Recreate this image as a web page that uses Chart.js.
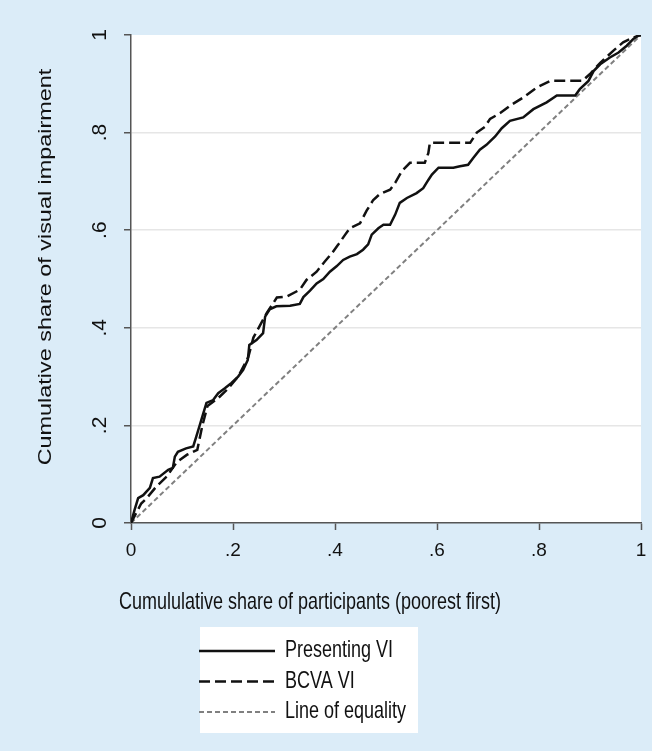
<!DOCTYPE html>
<html>
<head>
<meta charset="utf-8">
<title>Concentration curves of visual impairment</title>
<script src="https://cdn.jsdelivr.net/npm/chart.js@4.4.1/dist/chart.umd.min.js"></script>
<style>
  html, body { margin: 0; padding: 0; background: #dbecf8; }
  canvas { display: block; }
</style>
</head>
<body>
<canvas id="curveChart" width="652" height="751"></canvas>
<script>
// values (x = share of participants, y = share of VI)
const presentingX = [0, 0.007, 0.014, 0.024, 0.037, 0.043, 0.056, 0.073, 0.082, 0.086, 0.092, 0.108, 0.122, 0.128, 0.135, 0.141, 0.148, 0.161, 0.171, 0.184, 0.197, 0.21, 0.22, 0.229, 0.232, 0.246, 0.259, 0.263, 0.272, 0.285, 0.312, 0.331, 0.338, 0.351, 0.364, 0.377, 0.39, 0.403, 0.416, 0.429, 0.443, 0.455, 0.465, 0.472, 0.485, 0.495, 0.508, 0.518, 0.527, 0.541, 0.56, 0.573, 0.583, 0.59, 0.603, 0.632, 0.645, 0.661, 0.671, 0.684, 0.697, 0.714, 0.727, 0.743, 0.769, 0.789, 0.815, 0.835, 0.871, 0.88, 0.897, 0.907, 0.92, 0.939, 0.956, 0.972, 0.985, 0.995, 1];
const presentingY = [0, 0.027, 0.051, 0.057, 0.072, 0.092, 0.095, 0.109, 0.113, 0.136, 0.146, 0.153, 0.157, 0.177, 0.201, 0.222, 0.246, 0.252, 0.266, 0.276, 0.287, 0.3, 0.314, 0.334, 0.365, 0.375, 0.389, 0.423, 0.438, 0.444, 0.445, 0.449, 0.463, 0.476, 0.491, 0.5, 0.515, 0.526, 0.539, 0.546, 0.551, 0.56, 0.571, 0.591, 0.604, 0.611, 0.611, 0.632, 0.656, 0.666, 0.676, 0.686, 0.703, 0.714, 0.728, 0.728, 0.731, 0.734, 0.748, 0.765, 0.775, 0.792, 0.809, 0.824, 0.831, 0.848, 0.862, 0.876, 0.876, 0.889, 0.906, 0.926, 0.94, 0.954, 0.964, 0.978, 0.992, 0.999, 1];

const bcvaX = [0, 0.01, 0.02, 0.03, 0.05, 0.07, 0.09, 0.11, 0.13, 0.14, 0.15, 0.17, 0.19, 0.21, 0.23, 0.24, 0.266, 0.286, 0.305, 0.331, 0.344, 0.364, 0.38, 0.394, 0.406, 0.42, 0.429, 0.449, 0.462, 0.475, 0.488, 0.508, 0.518, 0.531, 0.547, 0.576, 0.583, 0.586, 0.665, 0.678, 0.694, 0.704, 0.724, 0.743, 0.769, 0.795, 0.822, 0.885, 0.9, 0.92, 0.946, 0.965, 0.985, 1];
const bcvaY = [0, 0.02, 0.04, 0.05, 0.075, 0.095, 0.125, 0.14, 0.15, 0.2, 0.24, 0.255, 0.275, 0.3, 0.34, 0.38, 0.43, 0.462, 0.464, 0.478, 0.498, 0.515, 0.536, 0.553, 0.57, 0.591, 0.604, 0.614, 0.64, 0.662, 0.674, 0.683, 0.697, 0.721, 0.738, 0.738, 0.758, 0.779, 0.779, 0.8, 0.812, 0.828, 0.84, 0.855, 0.872, 0.892, 0.906, 0.906, 0.92, 0.943, 0.968, 0.985, 0.995, 1];

const equalityX = [0, 1];
const equalityY = [0, 1];

const seriesNames = ["Presenting VI", "BCVA VI", "Line of equality"];
const xTickLabels = ["0", ".2", ".4", ".6", ".8", "1"];
const yTickLabels = ["0", ".2", ".4", ".6", ".8", "1"];
const xTitle = "Cumululative share of participants (poorest first)";
const yTitle = "Cumulative share of visual impairment";

const fontFamily = "'Liberation Sans', Arial, sans-serif";

function toPoints(xs, ys) {
  return xs.map((x, i) => ({ x: x, y: ys[i] }));
}

// text in the picture is a little taller than it is wide
function drawTallText(ctx, text, x, y, rotated) {
  ctx.save();
  ctx.translate(x, y);
  ctx.scale(1, 1.3);
  if (rotated) ctx.rotate(-Math.PI / 2);
  ctx.fillText(text, 0, 0);
  ctx.restore();
}

const backgroundPlugin = {
  id: "background",
  beforeDraw(chart) {
    const ctx = chart.ctx;
    const area = chart.chartArea;
    ctx.save();
    ctx.fillStyle = "#dbecf8";
    ctx.fillRect(0, 0, chart.width, chart.height);
    ctx.fillStyle = "#ffffff";
    ctx.fillRect(area.left, area.top, area.right - area.left, area.bottom - area.top);
    ctx.restore();
  },
};

const titlesAndLegend = {
  id: "titlesAndLegend",
  afterDraw(chart) {
    const ctx = chart.ctx;
    ctx.save();
    ctx.fillStyle = "#111111";
    ctx.font = "18px " + fontFamily;
    ctx.textAlign = "center";
    ctx.textBaseline = "middle";
    drawTallText(ctx, xTitle, 310, 603, false);
    drawTallText(ctx, yTitle, 46, 267, true);

    // legend box
    ctx.fillStyle = "#ffffff";
    ctx.fillRect(200, 627, 218, 106);
    chart.data.datasets.forEach((dataset, i) => {
      const rowY = 651 + i * 30.5;
      ctx.beginPath();
      ctx.strokeStyle = dataset.borderColor;
      ctx.lineWidth = dataset.borderWidth;
      ctx.setLineDash(dataset.borderDash || []);
      ctx.moveTo(199, rowY);
      ctx.lineTo(275, rowY);
      ctx.stroke();
      ctx.setLineDash([]);
      ctx.fillStyle = "#111111";
      ctx.textAlign = "left";
      drawTallText(ctx, dataset.label, 285, rowY, false);
    });
    ctx.restore();
  },
};

const curveChart = document.getElementById("curveChart");
const chart = new Chart(curveChart, {
  type: "line",
  data: {
    datasets: [
      {
        label: seriesNames[0],
        data: toPoints(presentingX, presentingY),
        borderColor: "#111111",
        borderWidth: 2.5,
        pointRadius: 0,
        tension: 0,
      },
      {
        label: seriesNames[1],
        data: toPoints(bcvaX, bcvaY),
        borderColor: "#111111",
        borderWidth: 2.5,
        borderDash: [11, 5],
        pointRadius: 0,
        tension: 0,
      },
      {
        label: seriesNames[2],
        data: toPoints(equalityX, equalityY),
        borderColor: "#808080",
        borderWidth: 2,
        borderDash: [5, 3],
        pointRadius: 0,
        tension: 0,
      },
    ],
  },
  options: {
    responsive: false,
    animation: false,
    events: [],
    layout: { padding: { top: 35, right: 11, left: 0, bottom: 0 } },
    plugins: {
      legend: { display: false },
      tooltip: { enabled: false },
    },
    scales: {
      x: {
        type: "linear",
        min: 0,
        max: 1,
        afterFit: (scale) => {
          scale.height = 228;
          scale.paddingLeft = 0;
          scale.paddingRight = 0;
        },
        border: { color: "#555555", width: 1.5 },
        grid: {
          drawOnChartArea: false,
          tickColor: "#555555",
          tickLength: 7,
          tickWidth: 1.5,
        },
        ticks: {
          stepSize: 0.2,
          maxRotation: 0,
          autoSkip: false,
          padding: 9,
          color: "#111111",
          font: { family: fontFamily, size: 19 },
          callback: (value, index) => xTickLabels[index],
        },
      },
      y: {
        type: "linear",
        min: 0,
        max: 1,
        afterFit: (scale) => {
          scale.width = 131;
        },
        border: { color: "#555555", width: 1.5 },
        grid: {
          color: (ctx) =>
            ctx.tick && ctx.tick.value > 0 && ctx.tick.value < 1
              ? "#e6e6e6"
              : "rgba(0,0,0,0)",
          lineWidth: 1.5,
          tickColor: "#555555",
          tickLength: 7,
          tickWidth: 1.5,
        },
        ticks: {
          stepSize: 0.2,
          minRotation: 90,
          maxRotation: 90,
          crossAlign: "center",
          autoSkip: false,
          padding: 15,
          color: "#111111",
          font: { family: fontFamily, size: 21 },
          callback: (value, index) => yTickLabels[index],
        },
      },
    },
  },
  plugins: [backgroundPlugin, titlesAndLegend],
});
</script>
</body>
</html>
